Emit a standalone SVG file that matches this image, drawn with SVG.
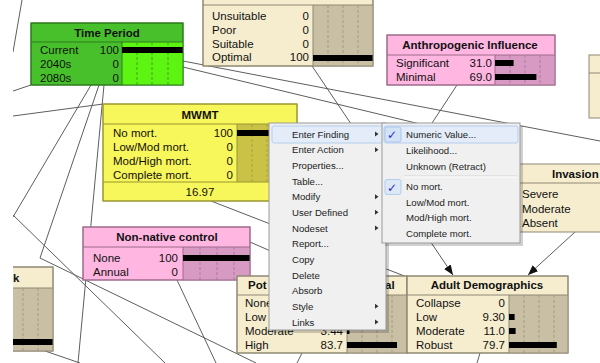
<svg xmlns="http://www.w3.org/2000/svg" width="600" height="363" viewBox="0 0 600 363">
<defs>
<clipPath id="cv"><rect x="13" y="0" width="587" height="363"/></clipPath>
<marker id="arr" markerUnits="userSpaceOnUse" markerWidth="10" markerHeight="8" refX="10" refY="4" orient="auto"><path d="M0,0 L10,4 L0,8 z" fill="#111"/></marker>
<style>
.e{stroke:#5e5e5e;stroke-width:1;fill:none}
.t{font-family:"Liberation Sans",Arial,sans-serif;font-size:11.5px;fill:#111}
.b{font-weight:bold}
.c{text-anchor:middle}
.r{text-anchor:end}
.bar{fill:#000}
.ln{stroke-width:1;fill:none}
.d{stroke-width:1;stroke-dasharray:3 2;fill:none}
.beige{fill:#f6edcf;stroke:#8f8874}
.beigeB{fill:#c9bfa4}
.beigeL{stroke:#8f8874}
.beigeD{stroke:#a59b82}
.pink{fill:#ffb6e1;stroke:#9c6a8a}
.pinkB{fill:#d69ac3}
.pinkL{stroke:#9c6a8a}
.pinkD{stroke:#b07a9f}
.yel{fill:#f7f65a;stroke:#9a9630}
.yelB{fill:#c9c247}
.yelL{stroke:#9a9630}
.yelD{stroke:#a8a13a}
.grn{fill:#48c02c;stroke:#2c7a1c}
.grnB{fill:#5ef412}
.grnL{stroke:#2c7a1c}
.grnD{stroke:#3fa51f}
.m{font-family:"Liberation Sans",Arial,sans-serif;font-size:9.6px;fill:#222}
.ar{fill:#333}
</style>
</defs>
<g clip-path="url(#cv)">
<g id="connectors">
<line class="e" x1="22" y1="0" x2="13" y2="52"/>
<line class="e" x1="31" y1="85" x2="13" y2="91"/>
<line class="e" x1="13" y1="116" x2="103" y2="104"/>
<line class="e" x1="91" y1="85" x2="13" y2="217"/>
<line class="e" x1="99" y1="85" x2="40" y2="258"/>
<line class="e" x1="104" y1="85" x2="78" y2="363"/>
<line class="e" x1="13" y1="215" x2="165" y2="363"/>
<line class="e" x1="40" y1="258" x2="256" y2="363"/>
<line class="e" x1="177" y1="280" x2="216" y2="363"/>
<line class="e" x1="45" y1="351" x2="80" y2="363"/>
<line class="e" x1="183" y1="61" x2="600" y2="141"/>
<line class="e" x1="183" y1="67" x2="420" y2="124"/>
<line class="e" x1="312" y1="66" x2="453" y2="275" marker-end="url(#arr)"/>
<line class="e" x1="457" y1="85" x2="331" y2="277"/>
<line class="e" x1="575" y1="232" x2="528" y2="275" marker-end="url(#arr)"/>
<line class="e" x1="211" y1="201" x2="407" y2="277"/>
<line class="e" x1="250" y1="242" x2="330" y2="277"/>
<line class="e" x1="302" y1="353" x2="297" y2="363"/>
<line class="e" x1="480" y1="353" x2="477" y2="363"/>
</g>

<g id="node-time-period">
<rect class="grn" x="31" y="23" width="152" height="62"/>
<rect class="grnB" x="122" y="42" width="61" height="43"/>
<line class="ln grnL" x1="31" y1="42" x2="183" y2="42"/>
<line class="ln grnL" x1="122" y1="42" x2="122" y2="85"/>
<path class="d grnD" d="M137,42V85M152,42V85M168,42V85"/>
<rect class="bar" x="122" y="47" width="61" height="6"/>
<rect x="31" y="23" width="152" height="62" fill="none" stroke="#2c7a1c"/>
<text class="t b c" x="107" y="37">Time Period</text>
<text class="t" x="40" y="54">Current</text><text class="t r" x="119" y="54">100</text>
<text class="t" x="40" y="68">2040s</text><text class="t r" x="119" y="68">0</text>
<text class="t" x="40" y="82">2080s</text><text class="t r" x="119" y="82">0</text>
</g>

<g id="node-habitat-top">
<rect class="beige" x="203" y="-15" width="170" height="81"/>
<rect class="beigeB" x="313" y="5" width="60" height="61"/>
<line class="ln beigeL" x1="203" y1="5" x2="373" y2="5"/>
<line class="ln beigeL" x1="313" y1="5" x2="313" y2="66"/>
<path class="d beigeD" d="M328,5V66M343,5V66M358,5V66"/>
<rect class="bar" x="313" y="55" width="60" height="6"/>
<rect x="203" y="-15" width="170" height="81" fill="none" stroke="#8f8874"/>
<text class="t" x="212" y="20">Unsuitable</text><text class="t r" x="309" y="20">0</text>
<text class="t" x="212" y="34">Poor</text><text class="t r" x="309" y="34">0</text>
<text class="t" x="212" y="47.5">Suitable</text><text class="t r" x="309" y="47.5">0</text>
<text class="t" x="212" y="61">Optimal</text><text class="t r" x="309" y="61">100</text>
</g>

<g id="node-anthropogenic">
<rect class="pink" x="387" y="35" width="168" height="50"/>
<rect class="pinkB" x="495" y="55" width="60" height="30"/>
<line class="ln pinkL" x1="387" y1="55" x2="555" y2="55"/>
<line class="ln pinkL" x1="495" y1="55" x2="495" y2="85"/>
<path class="d pinkD" d="M510,55V85M525,55V85M540,55V85"/>
<rect class="bar" x="495" y="60" width="18.6" height="6"/>
<rect class="bar" x="495" y="74" width="41.4" height="6"/>
<rect x="387" y="35" width="168" height="50" fill="none" stroke="#9c6a8a"/>
<text class="t b c" x="470" y="49">Anthropogenic Influence</text>
<text class="t" x="396" y="67">Significant</text><text class="t r" x="492" y="67">31.0</text>
<text class="t" x="396" y="81">Minimal</text><text class="t r" x="492" y="81">69.0</text>
</g>

<g id="node-right-edge">
<rect class="beige" x="589" y="55" width="40" height="63"/>
<line class="ln beigeL" x1="589" y1="73" x2="600" y2="73"/>
</g>

<g id="node-mwmt">
<rect class="yel" x="103" y="104" width="194" height="97"/>
<rect class="yelB" x="237" y="124" width="60" height="58"/>
<line class="ln yelL" x1="103" y1="124" x2="297" y2="124"/>
<line class="ln yelL" x1="237" y1="124" x2="237" y2="182"/>
<line class="ln yelL" x1="103" y1="182" x2="297" y2="182"/>
<path class="d yelD" d="M252,124V182M267,124V182M282,124V182"/>
<rect class="bar" x="237" y="130" width="60" height="6"/>
<rect x="103" y="104" width="194" height="97" fill="none" stroke="#9a9630"/>
<text class="t b c" x="200" y="119">MWMT</text>
<text class="t" x="113" y="137">No mort.</text><text class="t r" x="233" y="137">100</text>
<text class="t" x="113" y="151">Low/Mod mort.</text><text class="t r" x="233" y="151">0</text>
<text class="t" x="113" y="165">Mod/High mort.</text><text class="t r" x="233" y="165">0</text>
<text class="t" x="113" y="178.5">Complete mort.</text><text class="t r" x="233" y="178.5">0</text>
<text class="t c" x="200" y="196">16.97</text>
</g>

<g id="node-invasion">
<rect class="beige" x="513" y="164" width="120" height="68"/>
<line class="ln beigeL" x1="513" y1="183" x2="600" y2="183"/>
<text class="t b" x="552" y="178">Invasion</text>
<text class="t" x="522" y="198">Severe</text>
<text class="t" x="522" y="213">Moderate</text>
<text class="t" x="522" y="227">Absent</text>
</g>

<g id="node-non-native">
<rect class="pink" x="83" y="227" width="167" height="53"/>
<rect class="pinkB" x="183" y="247" width="67" height="33"/>
<line class="ln pinkL" x1="83" y1="247" x2="250" y2="247"/>
<line class="ln pinkL" x1="183" y1="247" x2="183" y2="280"/>
<path class="d pinkD" d="M200,247V280M217,247V280M234,247V280"/>
<rect class="bar" x="183" y="255" width="67" height="6"/>
<rect x="83" y="227" width="167" height="53" fill="none" stroke="#9c6a8a"/>
<text class="t b c" x="167" y="241">Non-native control</text>
<text class="t" x="93" y="262">None</text><text class="t r" x="178" y="262">100</text>
<text class="t" x="93" y="276">Annual</text><text class="t r" x="178" y="276">0</text>
</g>

<g id="node-left-k">
<rect class="beige" x="-100" y="267" width="153" height="84"/>
<rect class="beigeB" x="-7" y="288" width="60" height="63"/>
<line class="ln beigeL" x1="-100" y1="288" x2="53" y2="288"/>
<path class="d beigeD" d="M23,288V351M38,288V351"/>
<rect class="bar" x="-7" y="339" width="60" height="6"/>
<rect x="-100" y="267" width="153" height="84" fill="none" stroke="#8f8874"/>
<text class="t b" x="13" y="282">k</text>
</g>

<g id="node-pot">
<rect class="beige" x="237" y="276" width="170" height="77"/>
<rect class="beigeB" x="347" y="295" width="60" height="58"/>
<line class="ln beigeL" x1="237" y1="295" x2="407" y2="295"/>
<line class="ln beigeL" x1="347" y1="295" x2="347" y2="353"/>
<path class="d beigeD" d="M362,295V353M377,295V353M392,295V353"/>
<rect class="bar" x="347" y="328" width="2.5" height="6"/>
<rect class="bar" x="347" y="342" width="50" height="6"/>
<rect x="237" y="276" width="170" height="77" fill="none" stroke="#8f8874"/>
<text class="t b" x="248" y="289">Pot</text>
<text class="t b" x="385" y="289">al</text>
<text class="t" x="245" y="307">None</text>
<text class="t" x="245" y="321">Low</text>
<text class="t" x="245" y="335">Moderate</text><text class="t r" x="343" y="335">3.44</text>
<text class="t" x="245" y="349">High</text><text class="t r" x="343" y="349">83.7</text>
</g>

<g id="node-adult-demographics">
<rect class="beige" x="407" y="276" width="161" height="77"/>
<rect class="beigeB" x="509" y="295" width="59" height="58"/>
<line class="ln beigeL" x1="407" y1="295" x2="568" y2="295"/>
<line class="ln beigeL" x1="509" y1="295" x2="509" y2="353"/>
<path class="d beigeD" d="M524,295V353M539,295V353M554,295V353"/>
<rect class="bar" x="509" y="314" width="5.6" height="6"/>
<rect class="bar" x="509" y="328" width="6.6" height="6"/>
<rect class="bar" x="509" y="342" width="47.8" height="6"/>
<rect x="407" y="276" width="161" height="77" fill="none" stroke="#8f8874"/>
<text class="t b c" x="487" y="289">Adult Demographics</text>
<text class="t" x="416" y="307">Collapse</text><text class="t r" x="505" y="307">0</text>
<text class="t" x="416" y="321">Low</text><text class="t r" x="505" y="321">9.30</text>
<text class="t" x="416" y="335">Moderate</text><text class="t r" x="505" y="335">11.0</text>
<text class="t" x="416" y="349">Robust</text><text class="t r" x="505" y="349">79.7</text>
</g>

<g id="context-menu">
<rect x="272" y="126" width="117" height="207" fill="#000" opacity="0.18"/>
<rect x="269" y="123" width="117" height="207" fill="#f0f0f0" stroke="#9a9a9a"/>
<rect x="272" y="126" width="111" height="17" rx="2" fill="#e3ecf8" stroke="#b3cdee"/>
<text class="m" x="292" y="137.5">Enter Finding</text>
<text class="m" x="292" y="153.2">Enter Action</text>
<text class="m" x="292" y="168.8">Properties...</text>
<text class="m" x="292" y="184.5">Table...</text>
<text class="m" x="292" y="200.2">Modify</text>
<text class="m" x="292" y="215.8">User Defined</text>
<text class="m" x="292" y="231.5">Nodeset</text>
<text class="m" x="292" y="247.2">Report...</text>
<text class="m" x="292" y="262.8">Copy</text>
<text class="m" x="292" y="278.5">Delete</text>
<text class="m" x="292" y="294.2">Absorb</text>
<text class="m" x="292" y="309.8">Style</text>
<text class="m" x="292" y="325.5">Links</text>
<path class="ar" d="M375,131.5l3.5,2.5l-3.5,2.5zM375,147.2l3.5,2.5l-3.5,2.5zM375,194.2l3.5,2.5l-3.5,2.5zM375,209.8l3.5,2.5l-3.5,2.5zM375,225.5l3.5,2.5l-3.5,2.5zM375,303.8l3.5,2.5l-3.5,2.5zM375,319.5l3.5,2.5l-3.5,2.5z"/>
</g>

<g id="submenu">
<rect x="385" y="126" width="138" height="120" fill="#000" opacity="0.18"/>
<rect x="382" y="123" width="138" height="120" fill="#f0f0f0" stroke="#9a9a9a"/>
<rect x="384" y="126" width="134" height="17" rx="2" fill="#e3ecf8" stroke="#b3cdee"/>
<rect x="385" y="127" width="16" height="15" rx="2" fill="#d3e2f6" stroke="#a9c6ec"/>
<rect x="385" y="179.5" width="16" height="15" rx="2" fill="#dde8f6" stroke="#b3cdee"/>
<text x="387" y="139" font-family="DejaVu Sans, sans-serif" font-size="12" fill="#2b2bc4">✓</text>
<text x="387" y="191.5" font-family="DejaVu Sans, sans-serif" font-size="12" fill="#2b2bc4">✓</text>
<text class="m" x="406" y="137.5">Numeric Value...</text>
<text class="m" x="406" y="153.5">Likelihood...</text>
<text class="m" x="406" y="169.5">Unknown (Retract)</text>
<line x1="404" y1="176" x2="517" y2="176" stroke="#d4d4d4"/>
<line x1="404" y1="177" x2="517" y2="177" stroke="#fff"/>
<text class="m" x="406" y="190.2">No mort.</text>
<text class="m" x="406" y="205.5">Low/Mod mort.</text>
<text class="m" x="406" y="220.8">Mod/High mort.</text>
<text class="m" x="406" y="236.5">Complete mort.</text>
</g>
</g>
</svg>
